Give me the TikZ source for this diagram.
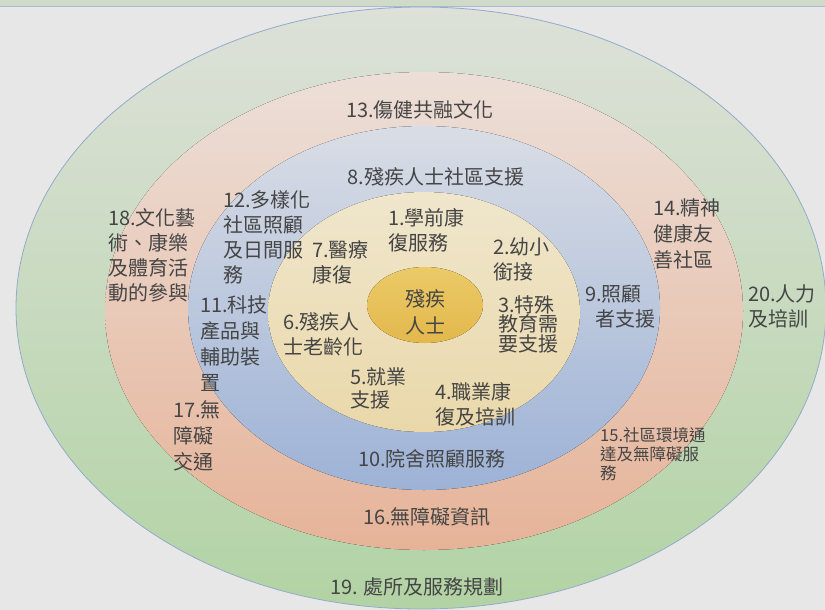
\documentclass[tikz,border=0pt]{standalone}
\usepackage{fontspec}
\setmainfont{Noto Sans CJK TC}
\usetikzlibrary{positioning}
\definecolor{txt}{HTML}{454545}
\definecolor{bggray}{HTML}{E7E7E7}
\definecolor{topband}{HTML}{CFDAC8}
\definecolor{edge}{HTML}{93ABC9}
\definecolor{greentop}{HTML}{DDE1D9}
\definecolor{greenbot}{HTML}{B2D3A4}
\definecolor{salmtop}{HTML}{ECDFD8}
\definecolor{salmbot}{HTML}{E6B398}
\definecolor{bluetop}{HTML}{D9DDE5}
\definecolor{bluebot}{HTML}{9DB2D6}
\definecolor{yeltop}{HTML}{EFE6CC}
\definecolor{yelbot}{HTML}{EAD8AA}
\definecolor{coretop}{HTML}{EBCA68}
\definecolor{corebot}{HTML}{E3B84C}

\begin{document}
\begin{tikzpicture}[x=1pt,y=-1pt,
    lbl/.style={inner sep=0pt,text=txt,font=\fontsize{20}{25}\selectfont},
    lft/.style={lbl,align=left,anchor=north west}]
\useasboundingbox (0,0) rectangle (825,610);
\begin{scope}
    \clip (0,0) rectangle (825,610);
    \fill[bggray] (0,0) rectangle (825,610);
    \fill[topband] (0,0) rectangle (825,6);
    \draw[edge!80,line width=1pt] (0,6.5) -- (825,6.5);
    % rings, outside in
    \draw[edge,line width=0.8pt,top color=greentop,bottom color=greenbot] (421,308) ellipse [x radius=405pt, y radius=301pt];
    \fill[top color=salmtop,bottom color=salmbot] (424,311) ellipse [x radius=319pt, y radius=239pt];
    \node[lft] (n18) at (108,208) {18.文化藝\\術、康樂\\及體育活\\動的參與};
    \fill[top color=bluetop,bottom color=bluebot] (424,308) ellipse [x radius=236pt, y radius=182pt];
    \fill[top color=yeltop,bottom color=yelbot] (424,312) ellipse [x radius=156pt, y radius=120pt];
    \fill[top color=coretop,bottom color=corebot] (425,305) ellipse [x radius=58pt, y radius=38pt];
\end{scope}
\node[lbl,align=center,font=\fontsize{20}{27}\selectfont] (core) at (425,312) {殘疾\\人士};
% inner ring
\node[lft] (n1) at (388,208) {1.學前康\\復服務};
\node[lft] (n2) at (493,237) {2.幼小\\銜接};
\node[lft,font=\fontsize{20}{19.5}\selectfont] (n3) at (498,295) {3.特殊\\教育需\\要支援};
\node[lft] (n4) at (435,382) {4.職業康\\復及培訓};
\node[lft,font=\fontsize{20}{23}\selectfont] (n5) at (350,367) {5.就業\\支援};
\node[lft] (n6) at (283,312) {6.殘疾人\\士老齡化};
\node[lft] (n7) at (312,240) {7.醫療\\康復};
% blue ring
\node[lbl] (n8) at (436,177) {8.殘疾人士社區支援};
\node[lft] (n9) at (585,285) {9.照顧\\\hspace*{10pt}者支援};
\node[lbl] (n10) at (432,459) {10.院舍照顧服務};
\node[lft,font=\fontsize{20}{26}\selectfont] (n11) at (200,295) {11.科技\\產品與\\輔助裝\\置};
\node[lft] (n12) at (223,190) {12.多樣化\\社區照顧\\及日間服\\務};
% salmon ring
\node[lbl] (n13) at (420,110) {13.傷健共融文化};
\node[lft,font=\fontsize{20}{26}\selectfont] (n14) at (653,198) {14.精神\\健康友\\善社區};
\node[lft,font=\fontsize{16.5}{19}\selectfont] (n15) at (600,427) {15.社區環境通\\達及無障礙服\\務};
\node[lbl] (n16) at (427,517) {16.無障礙資訊};
\node[lft,font=\fontsize{20}{26}\selectfont] (n17) at (173,400) {17.無\\障礙\\交通};
% green ring
\node[lbl] (n19) at (417,587) {19. 處所及服務規劃};
\node[lft] (n20) at (748,285) {20.人力\\及培訓};
\end{tikzpicture}
\end{document}
